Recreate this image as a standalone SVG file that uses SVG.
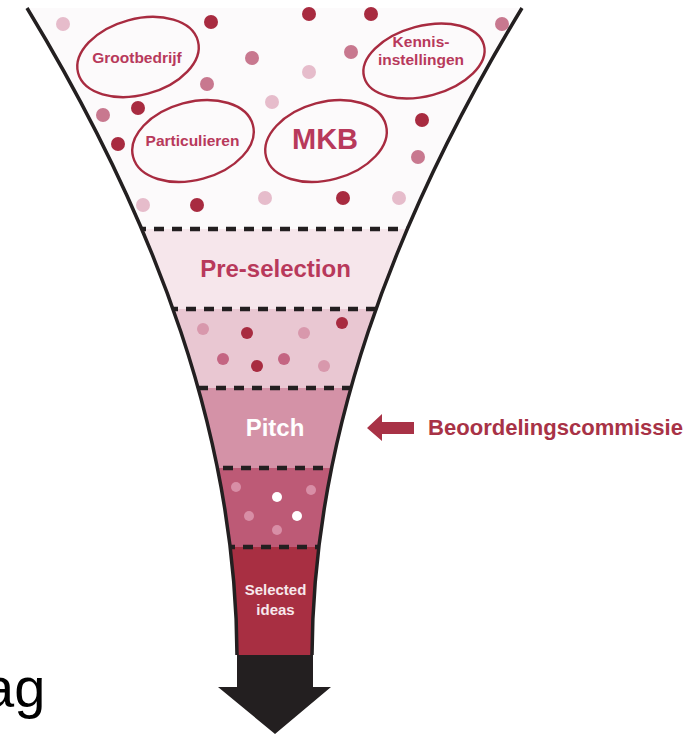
<svg xmlns="http://www.w3.org/2000/svg" width="689" height="735" viewBox="0 0 689 735">
<defs>
<clipPath id="funnelClip">
<path d="M27,8 C158,224 236,439 237,655 L312,655 C313,439 391,224 522,8 Z"/>
</clipPath>
<style>
.lbl{font-family:"Liberation Sans",Arial,sans-serif;font-weight:bold;text-anchor:middle}
.pink{fill:#b8395b}
.ell{fill:none;stroke:#a82b40;stroke-width:2.4}
.dk{fill:#a82b40}
.md{fill:#c8788f}
.lt{fill:#e6bccb}
.dash{stroke:#231f20;stroke-width:4.5;stroke-dasharray:10 8;fill:none}
.edge{fill:none;stroke:#231f20;stroke-width:3.5}
</style>
</defs>
<rect width="689" height="735" fill="#ffffff"/>

<g id="funnel-bands" clip-path="url(#funnelClip)">
<rect x="0" y="0" width="689" height="229" fill="#fcfafb"/>
<rect x="0" y="229" width="689" height="80" fill="#f6e6eb"/>
<rect x="0" y="309" width="689" height="79" fill="#e9c7d2"/>
<rect x="0" y="388" width="689" height="80" fill="#d492a7"/>
<rect x="0" y="468" width="689" height="79" fill="#bd5a76"/>
<rect x="0" y="547" width="689" height="108" fill="#a82f42"/>
</g>

<g id="top-dots">
<circle class="lt" cx="63" cy="24" r="7"/>
<circle class="dk" cx="211" cy="22" r="7"/>
<circle class="md" cx="252" cy="58" r="7"/>
<circle class="md" cx="207" cy="84" r="7"/>
<circle class="md" cx="103" cy="115" r="7"/>
<circle class="dk" cx="138" cy="108" r="7"/>
<circle class="dk" cx="118" cy="144" r="7"/>
<circle class="lt" cx="143" cy="205" r="7"/>
<circle class="dk" cx="197" cy="205" r="7"/>
<circle class="dk" cx="309" cy="14" r="7"/>
<circle class="dk" cx="371" cy="14" r="7"/>
<circle class="md" cx="502" cy="24" r="7"/>
<circle class="md" cx="351" cy="52" r="7"/>
<circle class="lt" cx="309" cy="72" r="7"/>
<circle class="lt" cx="272" cy="102" r="7"/>
<circle class="dk" cx="422" cy="120" r="7"/>
<circle class="md" cx="418" cy="157" r="7"/>
<circle class="lt" cx="265" cy="198" r="7"/>
<circle class="dk" cx="343" cy="198" r="7"/>
<circle class="lt" cx="399" cy="198" r="7"/>
</g>

<g id="node-grootbedrijf">
<ellipse class="ell" cx="138" cy="57" rx="62" ry="38" transform="rotate(-15 138 57)"/>
<text class="lbl pink" x="137" y="63" font-size="15.5">Grootbedrijf</text>
</g>
<g id="node-particulieren">
<ellipse class="ell" cx="193" cy="141" rx="62" ry="39" transform="rotate(-15 193 141)"/>
<text class="lbl pink" x="192.5" y="146" font-size="15.5">Particulieren</text>
</g>
<g id="node-mkb">
<ellipse class="ell" cx="326" cy="141" rx="62" ry="39" transform="rotate(-15 326 141)"/>
<text class="lbl pink" x="325" y="149" font-size="29">MKB</text>
</g>
<g id="node-kennisinstellingen">
<ellipse class="ell" cx="424" cy="61" rx="62" ry="35" transform="rotate(-15 424 61)"/>
<text class="lbl pink" x="421" y="47" font-size="15.5">Kennis-</text>
<text class="lbl pink" x="421" y="65" font-size="15.5">instellingen</text>
</g>

<g id="node-preselection">
<text class="lbl pink" x="275.5" y="277" font-size="24">Pre-selection</text>
</g>

<g id="band2-dots">
<circle fill="#d898ac" cx="203" cy="329" r="6"/>
<circle class="dk" cx="247" cy="333" r="6"/>
<circle fill="#d898ac" cx="304" cy="333" r="6"/>
<circle class="dk" cx="342" cy="323" r="6"/>
<circle fill="#c46582" cx="223" cy="359" r="6"/>
<circle class="dk" cx="257" cy="366" r="6"/>
<circle fill="#c46582" cx="284" cy="359" r="6"/>
<circle fill="#d898ac" cx="324" cy="366" r="6"/>
</g>

<g id="node-pitch">
<text class="lbl" x="275" y="436" font-size="24" fill="#ffffff">Pitch</text>
</g>

<g id="band4-dots">
<circle fill="#d88ea6" cx="236" cy="487" r="5"/>
<circle fill="#ffffff" cx="277" cy="497" r="5"/>
<circle fill="#d88ea6" cx="311" cy="490" r="5"/>
<circle fill="#d88ea6" cx="249" cy="516" r="5"/>
<circle fill="#ffffff" cx="297" cy="516" r="5"/>
<circle fill="#d88ea6" cx="277" cy="530" r="5"/>
</g>

<g id="node-selected">
<text class="lbl" x="275.5" y="595" font-size="15" fill="#f7e8ec">Selected</text>
<text class="lbl" x="275.5" y="615" font-size="15" fill="#f7e8ec">ideas</text>
</g>

<g id="dividers" clip-path="url(#funnelClip)">
<line class="dash" x1="100" y1="229" x2="460" y2="229"/>
<line class="dash" x1="150" y1="309" x2="400" y2="309"/>
<line class="dash" x1="180" y1="388" x2="370" y2="388"/>
<line class="dash" x1="205" y1="468" x2="345" y2="468"/>
<line class="dash" x1="225" y1="547" x2="325" y2="547"/>
</g>

<g id="funnel-outline">
<path class="edge" d="M27,8 C158,224 236,439 237,655"/>
<path class="edge" d="M522,8 C391,224 313,439 312,655"/>
</g>

<g id="connectors">
<polygon fill="#231f20" points="237,655 313,655 313,687 331,687 275,734 218,687 237,687"/>
<polygon fill="#a83246" points="367,428 382,414 382,422 414,422 414,434 382,434 382,441"/>
</g>

<g id="node-beoordelingscommissie">
<text x="428" y="435" font-family="Liberation Sans, Arial, sans-serif" font-weight="bold" font-size="22" fill="#a83246" textLength="255" lengthAdjust="spacingAndGlyphs">Beoordelingscommissie</text>
</g>

<g id="fragment-ag">
<text x="-17" y="707" font-family="Liberation Sans, Arial, sans-serif" font-size="56" fill="#000000">ag</text>
</g>
</svg>
